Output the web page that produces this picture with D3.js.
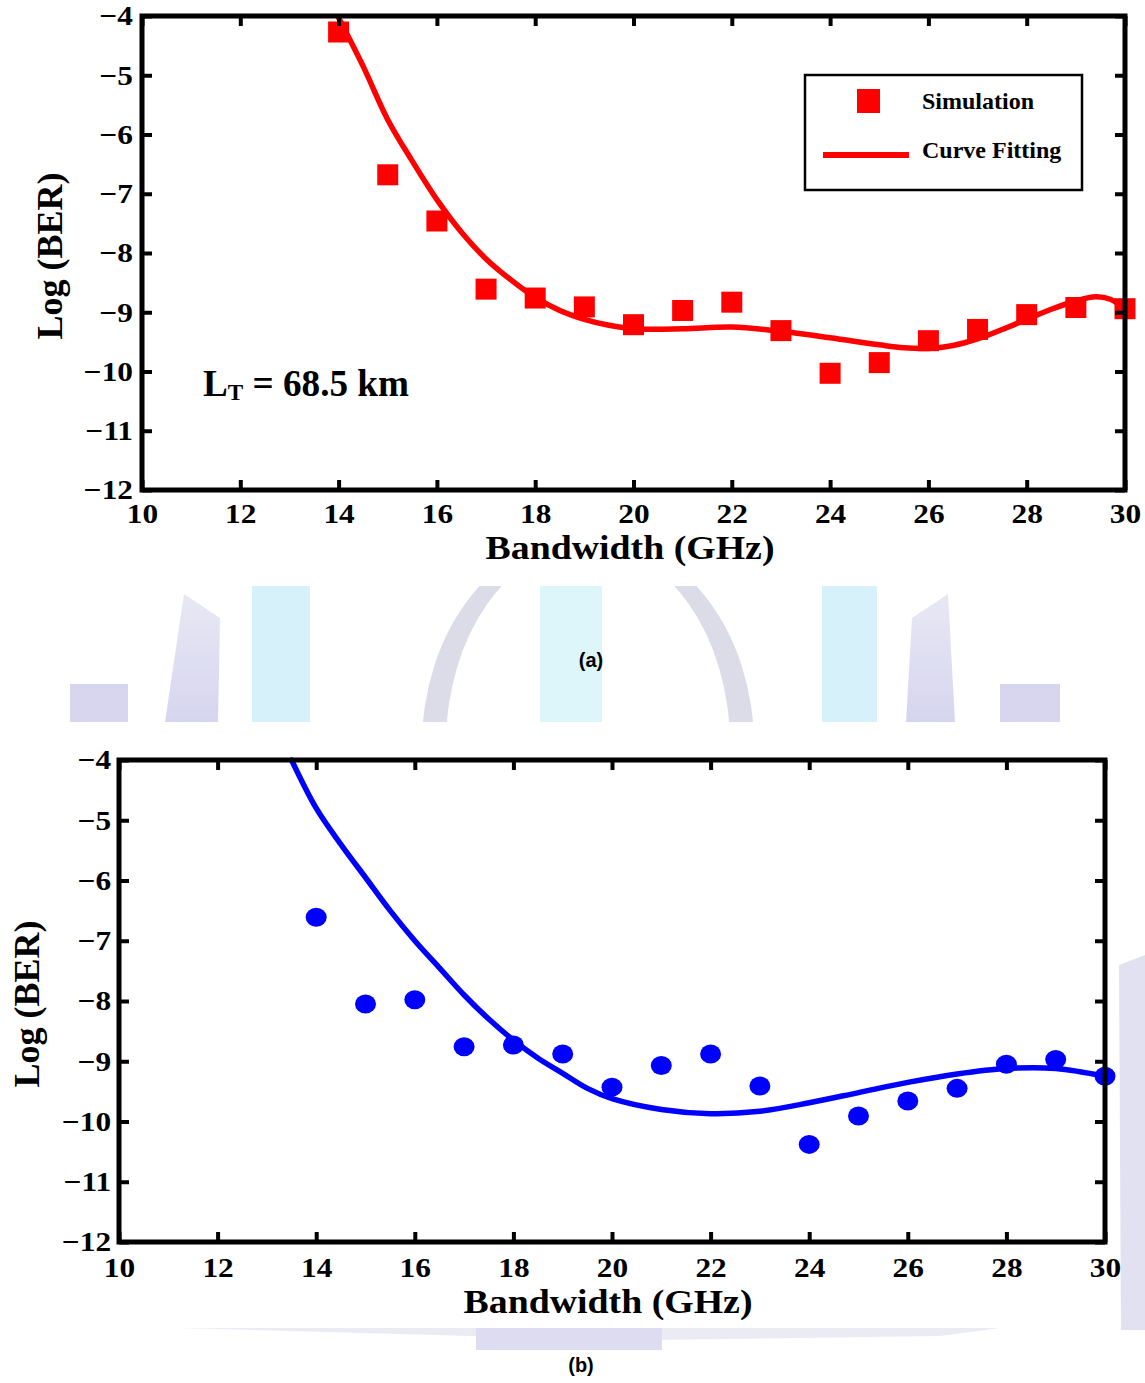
<!DOCTYPE html>
<html>
<head>
<meta charset="utf-8">
<script src="https://cdn.jsdelivr.net/npm/d3@7"></script>
<style>
  html, body { margin: 0; padding: 0; background: #ffffff; }
  svg { display: block; }
</style>
</head>
<body>
<svg id="chart" width="1145" height="1383"></svg>
<script>
// ---------------- data ----------------
const xTicks = [10, 12, 14, 16, 18, 20, 22, 24, 26, 28, 30];
const yTicks = [-4, -5, -6, -7, -8, -9, -10, -11, -12];

const bandwidth = [14, 15, 16, 17, 18, 19, 20, 21, 22, 23, 24, 25, 26, 27, 28, 29, 30];

// (a) L_T = 68.5 km
const simA = [-4.27, -6.68, -7.46, -8.61, -8.76, -8.91, -9.21, -8.97, -8.83, -9.31, -10.03, -9.85, -9.48, -9.29, -9.04, -8.92, -8.94];
const fitAx = [14, 14.5, 15, 15.5, 16, 16.5, 17, 17.5, 18, 18.5, 19, 19.5, 20, 21, 22, 23, 24, 25, 25.5, 26, 26.5, 27, 27.5, 28, 28.5, 29, 29.4, 29.7, 30];
const fitAy = [-4.03, -4.85, -5.75, -6.45, -7.1, -7.65, -8.1, -8.45, -8.75, -8.97, -9.12, -9.22, -9.28, -9.28, -9.25, -9.32, -9.43, -9.55, -9.6, -9.61, -9.56, -9.45, -9.29, -9.12, -8.95, -8.81, -8.74, -8.78, -8.94];

// (b)
const simB = [-6.61, -8.05, -7.98, -8.76, -8.73, -8.88, -9.43, -9.07, -8.88, -9.41, -10.38, -9.91, -9.66, -9.45, -9.05, -8.97, -9.25];
const fitBx = [13.5, 14, 14.5, 15, 15.5, 16, 16.5, 17, 17.5, 18, 18.5, 19, 19.5, 20, 21, 22, 23, 24, 25, 26, 27, 28, 29, 30];
const fitBy = [-4.0, -4.8, -5.4, -5.95, -6.5, -7.0, -7.45, -7.9, -8.3, -8.65, -8.95, -9.2, -9.45, -9.62, -9.8, -9.87, -9.83, -9.69, -9.52, -9.35, -9.21, -9.12, -9.12, -9.25];

const xLabel = "Bandwidth (GHz)";
const yLabel = "Log (BER)";
const legendLabels = ["Simulation", "Curve Fitting"];

// ---------------- drawing ----------------
const svg = d3.select("#chart");
svg.append("rect").attr("width", 1145).attr("height", 1383).attr("fill", "#ffffff");

const serif = "'Liberation Serif', 'Times New Roman', Times, serif";
const sans = "'Liberation Sans', Arial, Helvetica, sans-serif";
const fmt = d => d < 0 ? "\u2212" + Math.abs(d) : String(d);

// faint watermark decoration
const defs = svg.append("defs");
defs.append("clipPath").attr("id", "band").append("rect")
  .attr("x", 0).attr("y", 586).attr("width", 1145).attr("height", 136);
const lavG = defs.append("linearGradient").attr("id", "lavGrad").attr("x1", 0).attr("y1", 0).attr("x2", 0).attr("y2", 1);
lavG.append("stop").attr("offset", "0%").attr("stop-color", "#e8e8f4");
lavG.append("stop").attr("offset", "100%").attr("stop-color", "#d6d5ef");

const wm = svg.append("g").attr("class", "watermark").attr("clip-path", "url(#band)");
const lav = "url(#lavGrad)", cyan = "#d6f1fa", arch = "#dcdce8";
wm.append("rect").attr("x", 70).attr("y", 684).attr("width", 58).attr("height", 38).attr("fill", "#d8d6ef");
wm.append("polygon").attr("points", "184,594 220,618 218,722 165,722").attr("fill", lav);
wm.append("rect").attr("x", 252).attr("y", 586).attr("width", 58).attr("height", 136).attr("fill", cyan);
// arch = outer ellipse minus inner ellipse
const ell = (cx, cy, rx, ry) => `M ${cx - rx} ${cy} A ${rx} ${ry} 0 1 0 ${cx + rx} ${cy} A ${rx} ${ry} 0 1 0 ${cx - rx} ${cy} Z`;
wm.append("path").attr("d", ell(588, 745, 166, 210) + " " + ell(588, 745, 142, 200))
  .attr("fill-rule", "evenodd").attr("fill", arch);
wm.append("rect").attr("x", 540).attr("y", 586).attr("width", 62).attr("height", 136).attr("fill", "#dcf6fa");
wm.append("rect").attr("x", 822).attr("y", 586).attr("width", 55).attr("height", 136).attr("fill", cyan);
wm.append("polygon").attr("points", "912,618 948,594 955,722 906,722").attr("fill", lav);
wm.append("rect").attr("x", 1000).attr("y", 684).attr("width", 60).attr("height", 38).attr("fill", "#d8d6ef");

const wm2 = svg.append("g");
wm2.append("polygon").attr("points", "180,1328 1000,1328 940,1336 650,1340 470,1336").attr("fill", "#ebebf4");
wm2.append("rect").attr("x", 476).attr("y", 1328).attr("width", 186).attr("height", 22).attr("fill", "#dddcf0");
wm2.append("polygon").attr("points", "1119,965 1145,955 1145,1330 1121,1330").attr("fill", "#e2e1f2");

function drawPanel(cfg) {
  const x = d3.scaleLinear().domain([10, 30]).range([cfg.left, cfg.right]);
  const y = d3.scaleLinear().domain([-12, -4]).range([cfg.bottom, cfg.top]);
  const g = svg.append("g");

  // curve
  const line = d3.line().x(d => x(d[0])).y(d => y(d[1])).curve(d3.curveCatmullRom.alpha(0.5));
  g.append("path")
    .datum(cfg.fitX.map((v, i) => [v, cfg.fitY[i]]))
    .attr("d", line)
    .attr("fill", "none")
    .attr("stroke", cfg.color)
    .attr("stroke-width", 5.5)
    .attr("stroke-linejoin", "round")
    .attr("stroke-linecap", "round");

  // markers
  const pts = bandwidth.map((b, i) => [b, cfg.sim[i]]);
  if (cfg.marker === "square") {
    g.selectAll("rect.pt").data(pts).join("rect").attr("class", "pt")
      .attr("x", d => x(d[0]) - 10.5).attr("y", d => y(d[1]) - 10.5)
      .attr("width", 21).attr("height", 21).attr("fill", cfg.color);
  } else {
    g.selectAll("ellipse.pt").data(pts).join("ellipse").attr("class", "pt")
      .attr("cx", d => x(d[0])).attr("cy", d => y(d[1]))
      .attr("rx", 10.5).attr("ry", 9.5).attr("fill", cfg.color);
  }

  // axes
  const tickStyle = sel => {
    sel.select(".domain").remove();
    sel.selectAll(".tick line").attr("stroke", "#000").attr("stroke-width", 4);
    sel.selectAll(".tick text").attr("fill", "#000")
      .style("font-family", serif).style("font-weight", "bold").style("font-size", "28px");
  };
  g.append("g").attr("transform", `translate(0,${cfg.bottom})`)
    .call(d3.axisBottom(x).tickValues(xTicks).tickSize(-10).tickPadding(cfg.xPad).tickFormat(fmt))
    .call(tickStyle)
    .call(s => s.selectAll(".tick text").attr("transform", "scale(1.12,1)"));
  g.append("g").attr("transform", `translate(0,${cfg.top})`)
    .call(d3.axisTop(x).tickValues(xTicks).tickSize(-10).tickFormat(""))
    .call(tickStyle);
  g.append("g").attr("transform", `translate(${cfg.left},0)`)
    .call(d3.axisLeft(y).tickValues(yTicks).tickSize(-10).tickPadding(cfg.yPad).tickFormat(fmt))
    .call(tickStyle)
    .call(s => s.selectAll(".tick text").attr("transform", "scale(1.12,1)"));
  g.append("g").attr("transform", `translate(${cfg.right},0)`)
    .call(d3.axisRight(y).tickValues(yTicks).tickSize(-10).tickFormat(""))
    .call(tickStyle);

  // frame
  g.append("rect").attr("x", cfg.left).attr("y", cfg.top)
    .attr("width", cfg.right - cfg.left).attr("height", cfg.bottom - cfg.top)
    .attr("fill", "none").attr("stroke", "#000").attr("stroke-width", 5);

  // axis titles
  g.append("text").attr("x", (cfg.xLabelCx)).attr("y", cfg.xLabelY)
    .attr("text-anchor", "middle")
    .attr("textLength", 289).attr("lengthAdjust", "spacingAndGlyphs")
    .style("font-family", serif).style("font-weight", "bold").style("font-size", "34px")
    .text(xLabel);
  g.append("text")
    .attr("transform", `translate(${cfg.yLabelX},${cfg.yLabelCy}) rotate(-90)`)
    .attr("text-anchor", "middle")
    .style("font-family", serif).style("font-weight", "bold").style("font-size", "36px")
    .text(yLabel);

  // panel caption
  svg.append("text").attr("x", cfg.capX).attr("y", cfg.capY)
    .attr("text-anchor", "middle")
    .style("font-family", sans).style("font-weight", "bold").style("font-size", "20px")
    .text(cfg.caption);
  return { x, y, g };
}

const A = drawPanel({
  left: 142, right: 1125, top: 16, bottom: 490,
  sim: simA, fitX: fitAx, fitY: fitAy, color: "#ff0000", marker: "square",
  xPad: 13, yPad: 8, xLabelCx: 630, xLabelY: 559, yLabelX: 62, yLabelCy: 256,
  caption: "(a)", capX: 591, capY: 667
});

// legend (panel a)
const lg = A.g.append("g");
lg.append("rect").attr("x", 805).attr("y", 75).attr("width", 277).attr("height", 115)
  .attr("fill", "#fff").attr("stroke", "#000").attr("stroke-width", 2.5);
lg.append("rect").attr("x", 857).attr("y", 89).attr("width", 23).attr("height", 24).attr("fill", "#ff0000");
lg.append("line").attr("x1", 823).attr("x2", 909).attr("y1", 155).attr("y2", 155)
  .attr("stroke", "#ff0000").attr("stroke-width", 6);
lg.selectAll("text").data(legendLabels).join("text")
  .attr("x", 922).attr("y", (d, i) => i === 0 ? 109 : 158)
  .style("font-family", serif).style("font-weight", "bold").style("font-size", "24px")
  .text(d => d);

// annotation
const ann = A.g.append("text").attr("x", 203).attr("y", 396)
  .attr("textLength", 206).attr("lengthAdjust", "spacingAndGlyphs")
  .style("font-family", serif).style("font-weight", "bold").style("font-size", "37px");
ann.append("tspan").text("L");
ann.append("tspan").attr("dy", 4).style("font-size", "23px").text("T");
ann.append("tspan").attr("dy", -4).text(" = 68.5 km");

drawPanel({
  left: 119, right: 1105, top: 760, bottom: 1242,
  sim: simB, fitX: fitBx, fitY: fitBy, color: "#0000ff", marker: "circle",
  xPad: 15, yPad: 7, xLabelCx: 608, xLabelY: 1313, yLabelX: 39, yLabelCy: 1004,
  caption: "(b)", capX: 581, capY: 1372
});
</script>
</body>
</html>
